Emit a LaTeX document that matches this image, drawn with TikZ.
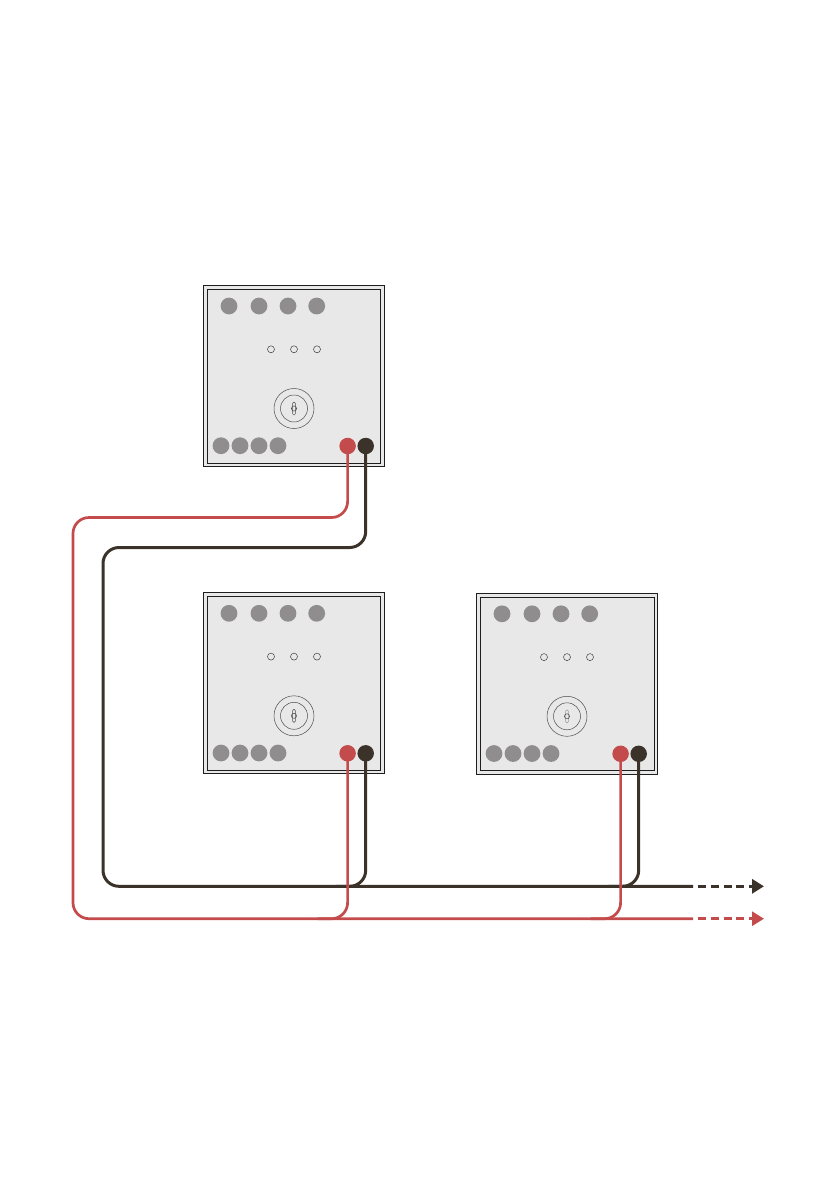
\documentclass[tikz,border=0pt]{standalone}
\usetikzlibrary{arrows.meta}
\definecolor{wirered}{HTML}{C44B4B}
\definecolor{wiredark}{HTML}{3B3329}
\definecolor{dotgray}{HTML}{8F8D8D}
\definecolor{panelfill}{HTML}{E8E8E8}
\definecolor{edgeink}{HTML}{1E1E1E}
\tikzset{
  panelouter/.style={draw=edgeink,line width=1pt,fill=panelfill},
  panelinner/.style={draw=edgeink,line width=1pt},
  graydot/.style={circle,fill=dotgray,minimum size=16.8pt,inner sep=0pt,outer sep=0pt},
  led/.style={circle,draw=black!75,line width=0.5pt,minimum size=7pt,inner sep=0pt},
  ring/.style={draw=black!70,line width=0.5pt},
  redterm/.style={circle,fill=wirered,minimum size=16.5pt,inner sep=0pt,outer sep=0pt},
  darkterm/.style={circle,fill=wiredark,minimum size=16.5pt,inner sep=0pt,outer sep=0pt},
  redwire/.style={draw=wirered,line width=2.7pt,rounded corners=16pt},
  darkwire/.style={draw=wiredark,line width=3pt,rounded corners=16pt},
  reddash/.style={draw=wirered,line width=2.7pt,dash pattern=on 8pt off 4.9pt,dash phase=-4.7pt,-{Triangle[length=12pt,width=14pt]}},
  darkdash/.style={draw=wiredark,line width=3pt,dash pattern=on 8pt off 4.9pt,dash phase=-4.7pt,-{Triangle[length=12pt,width=14pt]}}
}
% #1 suffix, #2 x offset, #3 y offset, #4 key slot colour, #5 inner right, #6 inner bottom, #7 outer bottom
\newcommand{\panelat}[7]{%
  \begin{scope}[shift={(#2,#3)}]
    \path[panelouter] (203.7,285.3) rectangle (384.3,#7);
    \path[panelinner] (207.6,289.3) rectangle (#5,#6);
    \node[graydot] (ta#1) at (229,306) {};
    \node[graydot] (tb#1) at (259,306) {};
    \node[graydot] (tc#1) at (288,306) {};
    \node[graydot] (td#1) at (316.7,306) {};
    \node[led] (la#1) at (271,349.3) {};
    \node[led] (lb#1) at (294,349.3) {};
    \node[led] (lc#1) at (317,349.3) {};
    \node[circle,ring,minimum size=40pt,inner sep=0pt] (ko#1) at (294,408.5) {};
    \node[circle,ring,minimum size=27pt,inner sep=0pt] (ki#1) at (294,408.5) {};
    \path[ring,draw=#4,rounded corners=1.3pt] (292.6,402) rectangle (295.4,415);
    \node[circle,ring,minimum size=5.2pt,inner sep=0pt] (kc#1) at (294,408.5) {};
    \node[graydot] (ba#1) at (221,445.7) {};
    \node[graydot] (bb#1) at (240,445.7) {};
    \node[graydot] (bc#1) at (259,445.7) {};
    \node[graydot] (bd#1) at (278,445.7) {};
    \node[redterm] (r#1) at (347.6,446) {};
    \node[darkterm] (k#1) at (365.7,446) {};
  \end{scope}}
\begin{document}
\begin{tikzpicture}[x=1pt,y=-1pt]
\useasboundingbox (0,0) rectangle (840,1192);
\panelat{1}{0}{0}{black!70}{380.2}{463.2}{466}
\panelat{2}{0}{307.3}{black!70}{380.2}{463.2}{466}
\panelat{3}{273}{307.8}{black!40}{381.7}{462.6}{466.4}
% bus coordinates
\coordinate (dcA) at (k1 |- 0,547.5);
\coordinate (dcB) at (103,547.5);
\coordinate (dcC) at (103,886.3);
\coordinate (dEnd) at (693,886.3);
\coordinate (dTip) at (764,886.3);
\coordinate (rcA) at (r1 |- 0,517.5);
\coordinate (rcB) at (73,517.5);
\coordinate (rcC) at (73,918.7);
\coordinate (rEnd) at (693,918.7);
\coordinate (rTip) at (764,918.7);
% dark wires
\draw[darkwire] (k2.center) -- (k2 |- dEnd) -- ([xshift=-30pt]k2 |- dEnd);
\draw[darkwire] (k3.center) -- (k3 |- dEnd) -- ([xshift=-30pt]k3 |- dEnd);
\draw[darkwire] (k1.center) -- (dcA) -- (dcB) -- (dcC) -- (dEnd);
\draw[darkdash] (dEnd) -- (dTip);
% red wires
\draw[redwire] (r1.center) -- (rcA) -- (rcB) -- (rcC) -- (rEnd);
\draw[redwire] (r2.center) -- (r2 |- rEnd) -- ([xshift=-30pt]r2 |- rEnd);
\draw[redwire] (r3.center) -- (r3 |- rEnd) -- ([xshift=-30pt]r3 |- rEnd);
\draw[reddash] (rEnd) -- (rTip);
\end{tikzpicture}
\end{document}
